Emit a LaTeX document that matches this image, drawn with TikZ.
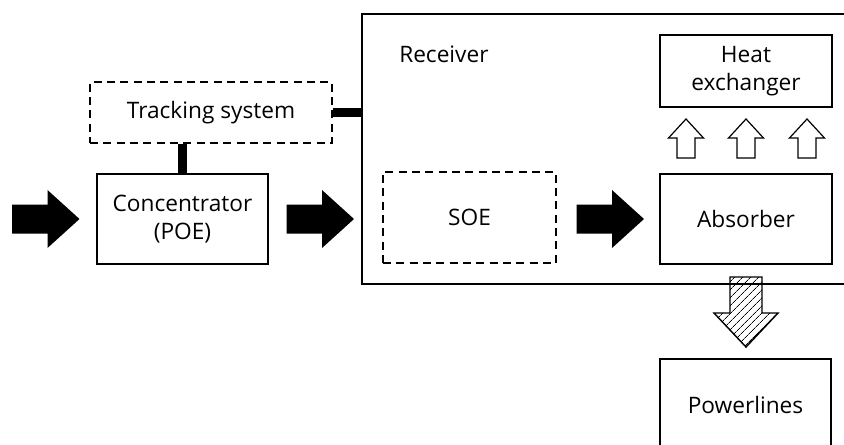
\documentclass[tikz,border=0pt]{standalone}
\usepackage{fontspec}
\setmainfont{Open Sans}
\usetikzlibrary{patterns.meta}
\begin{document}
\begin{tikzpicture}[x=0.75pt,y=-0.75pt,
  font=\fontsize{17}{21.5}\selectfont,
  box/.style={draw, line width=1pt, align=center, inner sep=0pt},
  dbox/.style={box, dash pattern=on 6pt off 4pt},
  bar/.style={line width=7pt},
  rarrow/.pic={\fill (0,-14.5) -- (35.5,-14.5) -- (35.5,-29) -- (67.5,0) -- (35.5,29) -- (35.5,14.5) -- (0,14.5) -- cycle;},
  uarrow/.pic={\draw[line width=0.9pt, fill=white] (-9,0) -- (-9,-20) -- (-17.5,-20) -- (0,-39) -- (17.5,-20) -- (9,-20) -- (9,0) -- cycle;}]
\useasboundingbox (0,0) rectangle (844,444);
\clip (0,0) rectangle (844,444);

% boxes
\node[box, minimum width=381pt, minimum height=202.5pt] (rec) at (616,149) {};
\node[anchor=base west, inner sep=0pt] (reclabel) at (399,62) {Receiver};
\node[dbox, minimum width=181.5pt, minimum height=45.75pt] (track) at (211,112.5) {Tracking system};
\node[box, minimum width=128.25pt, minimum height=67.5pt] (conc) at (182.5,219) {Concentrator\\(POE)};
\node[dbox, minimum width=129.75pt, minimum height=68.25pt] (soe) at (469.5,217.5) {SOE};
\node[box, minimum width=129pt, minimum height=54pt] (heat) at (746,71) {Heat\\exchanger};
\node[box, minimum width=129pt, minimum height=67.5pt] (abs) at (746,219) {Absorber};
\node[box, minimum width=128.25pt, minimum height=69pt] (power) at (745.5,405) {Powerlines};

% connecting bars
\draw[bar] (track.south -| conc.north) -- (conc.north);
\draw[bar] (track.east) -- (track.east -| rec.west);

% block arrows
\pic at (12,219) {rarrow};
\pic at (286.5,219) {rarrow};
\pic at (576.5,219) {rarrow};

% hollow up arrows
\pic at (686,158) {uarrow};
\pic at (746,158) {uarrow};
\pic at (807,158) {uarrow};

% hatched arrow
\draw[line width=1.1pt, pattern={Lines[angle=45,distance=4pt,line width=0.6pt]}]
  (730,277) -- (762,277) -- (762,313) -- (778,313) -- (746,347) -- (714,313) -- (730,313) -- cycle;
\end{tikzpicture}
\end{document}
